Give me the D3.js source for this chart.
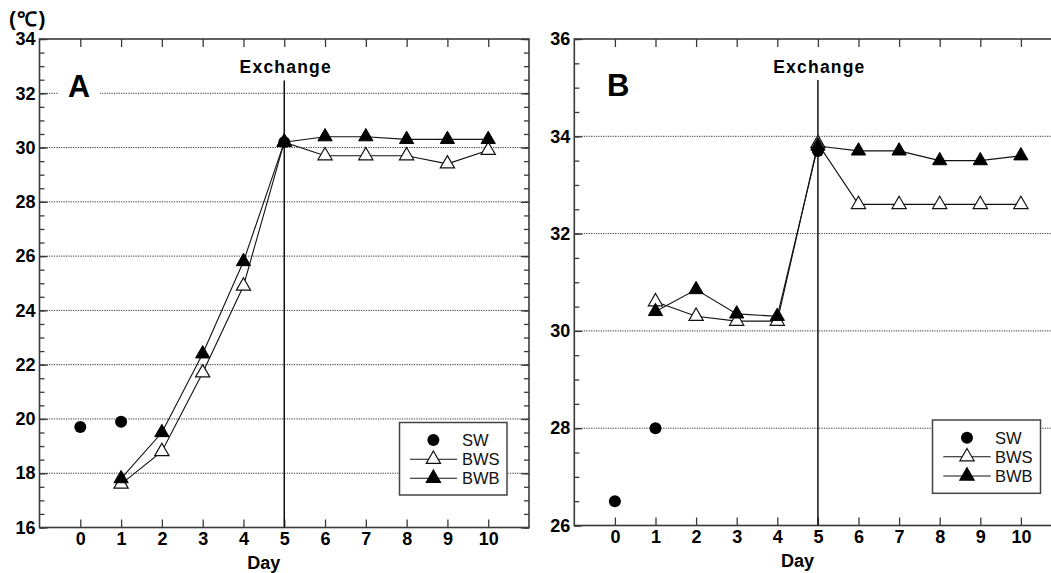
<!DOCTYPE html>
<html>
<head>
<meta charset="utf-8">
<script src="https://cdn.jsdelivr.net/npm/d3@7"></script>
<style>
  body { margin: 0; background: #fff; }
  svg { display: block; }
  text { font-family: "Liberation Sans", Arial, Helvetica, sans-serif; }
</style>
</head>
<body>
<svg id="chart" width="1051" height="573"></svg>
<script>
const days = [0, 1, 2, 3, 4, 5, 6, 7, 8, 9, 10]
const exchangeDay = 5
const seriesNames = ['SW', 'BWS', 'BWB']

// panel A
const swDaysA = [0, 1, 5]
const swA = [19.7, 19.9, 30.2]
const bwDaysA = [1, 2, 3, 4, 5, 6, 7, 8, 9, 10]
const bwsA = [17.6, 18.8, 21.7, 24.9, 30.2, 29.7, 29.7, 29.7, 29.4, 29.9]
const bwbA = [17.8, 19.5, 22.4, 25.8, 30.2, 30.4, 30.4, 30.3, 30.3, 30.3]
const yTicksA = [16, 18, 20, 22, 24, 26, 28, 30, 32, 34]

// panel B
const swDaysB = [0, 1, 5]
const swB = [26.5, 28.0, 33.7]
const bwDaysB = [1, 2, 3, 4, 5, 6, 7, 8, 9, 10]
const bwsB = [30.6, 30.3, 30.2, 30.2, 33.85, 32.6, 32.6, 32.6, 32.6, 32.6]
const bwbB = [30.4, 30.85, 30.35, 30.3, 33.8, 33.7, 33.7, 33.5, 33.5, 33.6]
const yTicksB = [26, 28, 30, 32, 34, 36]

const svg = d3.select('#chart')
const ink = '#111'
const frameInk = '#3a3a3a'

const triangle = d3.symbol().type(d3.symbolTriangle).size(88)

function styleAxis(sel) {
  sel.select('.domain').remove()
  sel.selectAll('.tick line').attr('stroke', frameInk).attr('stroke-width', 1.3)
  sel.selectAll('.tick text')
    .attr('fill', '#000')
    .style('font-size', '18px')
    .style('font-weight', 'bold')
    .style('font-family', '"Liberation Sans", Arial, Helvetica, sans-serif')
}

function drawPanel(p) {
  const x = d3.scaleLinear().domain([-1, 11]).range([p.left, p.right])
  const y = d3.scaleLinear().domain([p.yMin, p.yMax]).range([p.bottom, p.top])
  const g = svg.append('g')

  // dotted grid
  g.selectAll('line.grid')
    .data(p.yTicks.filter(v => v > p.yMin && v < p.yMax))
    .join('line')
    .attr('class', 'grid')
    .attr('x1', p.left).attr('x2', p.right)
    .attr('y1', d => y(d)).attr('y2', d => y(d))
    .attr('stroke', '#333')
    .attr('stroke-width', 1)
    .attr('stroke-dasharray', '1.2,1.2')

  // panel letter
  if (p.letterBg) {
    g.append('rect')
      .attr('x', p.letterBg[0]).attr('y', p.letterBg[1])
      .attr('width', p.letterBg[2]).attr('height', p.letterBg[3])
      .attr('fill', '#fff')
  }
  g.append('text')
    .attr('x', p.letterX).attr('y', p.letterY)
    .attr('fill', '#000')
    .style('font-size', p.letterSize + 'px')
    .style('font-weight', 'bold')
    .text(p.letter)

  // minor ticks, left and right
  const minor = d3.range(p.yMin, p.yMax + 0.01, 0.5)
  g.append('g')
    .attr('transform', `translate(${p.left},0)`)
    .call(d3.axisLeft(y).tickValues(minor).tickSize(-5).tickFormat(''))
    .call(styleAxis)
  g.append('g')
    .attr('transform', `translate(${p.right},0)`)
    .call(d3.axisRight(y).tickValues(minor).tickSize(-5).tickFormat(''))
    .call(styleAxis)

  // major y ticks with labels
  g.append('g')
    .attr('transform', `translate(${p.left},0)`)
    .call(d3.axisLeft(y).tickValues(p.yTicks).tickSize(-8).tickPadding(4).tickFormat(d3.format('d')))
    .call(styleAxis)
  g.append('g')
    .attr('transform', `translate(${p.right},0)`)
    .call(d3.axisRight(y).tickValues(p.yTicks).tickSize(-8).tickFormat(''))
    .call(styleAxis)

  // x ticks, bottom with labels, top without
  g.append('g')
    .attr('transform', `translate(0,${p.bottom})`)
    .call(d3.axisBottom(x).tickValues(days).tickSize(-8).tickPadding(p.xPad).tickFormat(d3.format('d')))
    .call(styleAxis)
  g.append('g')
    .attr('transform', `translate(0,${p.top})`)
    .call(d3.axisTop(x).tickValues(days).tickSize(-8).tickFormat(''))
    .call(styleAxis)

  // frame
  g.append('rect')
    .attr('x', p.left).attr('y', p.top)
    .attr('width', p.right - p.left).attr('height', p.bottom - p.top)
    .attr('fill', 'none')
    .attr('stroke', frameInk)
    .attr('stroke-width', 1.6)

  // axis title
  g.append('text')
    .attr('x', x(4.5)).attr('y', p.dayY)
    .attr('text-anchor', 'middle')
    .attr('fill', '#000')
    .style('font-size', '18px')
    .style('font-weight', 'bold')
    .text('Day')

  // exchange marker
  g.append('line')
    .attr('x1', x(exchangeDay)).attr('x2', x(exchangeDay))
    .attr('y1', p.exchangeLineTop).attr('y2', p.bottom)
    .attr('stroke', ink)
    .attr('stroke-width', 1.5)
  g.append('text')
    .attr('x', x(exchangeDay) + p.exchangeShift).attr('y', p.exchangeY)
    .attr('text-anchor', 'middle')
    .attr('fill', '#000')
    .style('font-size', '17.5px')
    .style('font-weight', 'bold')
    .style('letter-spacing', '1.2px')
    .text('Exchange')

  // series lines
  const line = d3.line()
    .x((d, i) => x(p.bwDays[i]))
    .y(d => y(d))
  ;[p.bws, p.bwb].forEach(vals => {
    g.append('path')
      .attr('d', line(vals))
      .attr('fill', 'none')
      .attr('stroke', ink)
      .attr('stroke-width', 1.1)
  })

  // markers
  g.selectAll('path.bws')
    .data(p.bws)
    .join('path')
    .attr('class', 'bws')
    .attr('transform', (d, i) => `translate(${x(p.bwDays[i])},${y(d)})`)
    .attr('d', triangle)
    .attr('fill', '#fff')
    .attr('stroke', ink)
    .attr('stroke-width', 1.2)
  g.selectAll('path.bwb')
    .data(p.bwb)
    .join('path')
    .attr('class', 'bwb')
    .attr('transform', (d, i) => `translate(${x(p.bwDays[i])},${y(d)})`)
    .attr('d', triangle)
    .attr('fill', '#000')
    .attr('stroke', '#000')
    .attr('stroke-width', 1)
  g.selectAll('circle.sw')
    .data(p.sw)
    .join('circle')
    .attr('class', 'sw')
    .attr('cx', (d, i) => x(p.swDays[i]))
    .attr('cy', d => y(d))
    .attr('r', 6)
    .attr('fill', '#000')

  // legend
  const L = p.legend
  g.append('rect')
    .attr('x', L.x).attr('y', L.y)
    .attr('width', L.w).attr('height', L.h)
    .attr('fill', '#fff')
    .attr('stroke', '#444')
    .attr('stroke-width', 1.5)
  seriesNames.forEach((name, i) => {
    const ry = L.rows[i]
    if (name !== 'SW') {
      g.append('line')
        .attr('x1', L.lineX[0]).attr('x2', L.lineX[1])
        .attr('y1', ry).attr('y2', ry)
        .attr('stroke', ink)
        .attr('stroke-width', 1.1)
    }
    if (name === 'SW') {
      g.append('circle')
        .attr('cx', L.markX).attr('cy', ry).attr('r', 6)
        .attr('fill', '#000')
    } else {
      g.append('path')
        .attr('transform', `translate(${L.markX},${ry})`)
        .attr('d', triangle)
        .attr('fill', name === 'BWS' ? '#fff' : '#000')
        .attr('stroke', name === 'BWS' ? ink : '#000')
        .attr('stroke-width', 1.2)
    }
    g.append('text')
      .attr('x', L.textX).attr('y', ry)
      .attr('dy', '0.36em')
      .attr('fill', ink)
      .style('font-size', '16.5px')
      .text(name)
  })
}

drawPanel({
  left: 39.5, right: 529, top: 39, bottom: 527.5,
  yMin: 16, yMax: 34, yTicks: yTicksA,
  swDays: swDaysA, sw: swA, bwDays: bwDaysA, bws: bwsA, bwb: bwbA,
  letter: 'A', letterX: 68, letterY: 97, letterSize: 30.5, letterBg: [58, 70, 42, 30],
  xPad: 5, dayY: 568.5,
  exchangeLineTop: 80.5, exchangeY: 73.3, exchangeShift: 1.5,
  legend: { x: 399.5, y: 422.5, w: 107.5, h: 72.5, rows: [440, 459.3, 478.3], lineX: [410, 457], markX: 433.4, textX: 462 }
})

drawPanel({
  left: 574.3, right: 1061.5, top: 39, bottom: 525.5,
  yMin: 26, yMax: 36, yTicks: yTicksB,
  swDays: swDaysB, sw: swB, bwDays: bwDaysB, bws: bwsB, bwb: bwbB,
  letter: 'B', letterX: 607, letterY: 95.7, letterSize: 31, letterBg: null,
  xPad: 5, dayY: 566.5,
  exchangeLineTop: 80, exchangeY: 72.5, exchangeShift: 1.5,
  legend: { x: 932.5, y: 420, w: 108, h: 73.3, rows: [437.7, 456.7, 476], lineX: [943.3, 990.7], markX: 967, textX: 995 }
})

// unit label
svg.append('text')
  .attr('x', 9).attr('y', 26)
  .attr('fill', '#000')
  .style('font-size', '20px')
  .style('font-weight', 'bold')
  .style('letter-spacing', '1.5px')
  .text('(℃)')
</script>
</body>
</html>
